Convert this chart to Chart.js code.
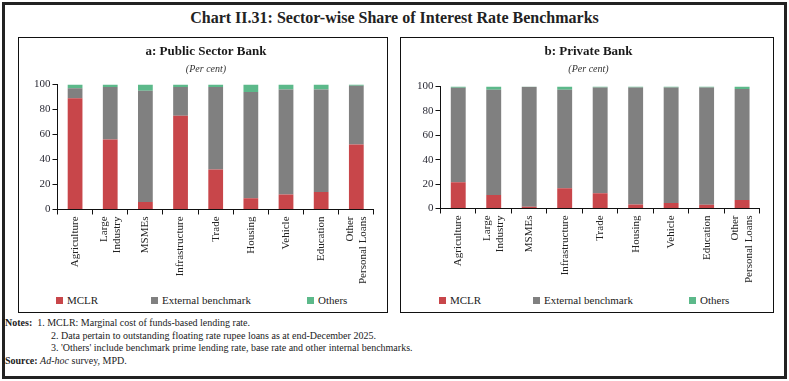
<!DOCTYPE html>
<html>
<head>
<meta charset="utf-8">
<script src="https://cdn.jsdelivr.net/npm/chart.js@4.4.1/dist/chart.umd.min.js"></script>
<style>
  html, body { margin:0; padding:0; background:#fff; }
  body { width:789px; height:381px; position:relative; overflow:hidden; font-family:"Liberation Serif", serif; color:#1a1a1a; }
  #outer { position:absolute; left:2px; top:2px; width:779px; height:371px; border:3px solid #222; }
  #title { position:absolute; left:0; width:789px; top:9px; text-align:center; font-size:16px; font-weight:bold; color:#222; }
  .panel { position:absolute; top:37px; height:274px; border:1px solid #111; }
  #pa { left:18px; width:368px; }
  #pb { left:400px; width:372px; }
  canvas { position:absolute; }
  .legend { position:absolute; top:294px; font-family:"Liberation Serif", serif; font-size:11px; color:#222; white-space:nowrap; }
  .legend span.box { display:inline-block; width:7px; height:7px; margin-right:4px; vertical-align:0px; }
  .legend .item { position:absolute; top:0; }
  #notes { position:absolute; left:5px; top:317px; font-size:10px; line-height:12.5px; color:#222; }
  #notes div { white-space:nowrap; }
</style>
</head>
<body>
<div id="outer"></div>
<div id="title">Chart II.31: Sector-wise Share of Interest Rate Benchmarks</div>
<div class="panel" id="pa"></div>
<div class="panel" id="pb"></div>
<canvas id="ca" width="366" height="248" style="left:19px;top:38px;width:366px;height:248px;"></canvas>
<canvas id="cb" width="370" height="247" style="left:401px;top:38px;width:370px;height:247px;"></canvas>
<div class="legend" id="la" style="left:0px;width:400px;"></div>
<div class="legend" id="lb" style="left:0px;width:789px;"></div>
<div id="notes">
  <div><b>Notes:</b>&nbsp; 1. MCLR: Marginal cost of funds-based lending rate.</div>
  <div style="padding-left:46px">2. Data pertain to outstanding floating rate rupee loans as at end-December 2025.</div>
  <div style="padding-left:46px">3. 'Others' include benchmark prime lending rate, base rate and other internal benchmarks.</div>
  <div><b>Source:</b> <i>Ad-hoc</i> survey, MPD.</div>
</div>
<script>
const categories = [["Agriculture"], ["Large", "Industry"], "MSMEs", "Infrastructure", "Trade", "Housing", "Vehicle", "Education", ["Other", "Personal Loans"]];
const seriesNames = ["MCLR", "External benchmark", "Others"];
const yTicks = [0, 20, 40, 60, 80, 100];

const psbMCLR   = [89, 56, 6, 75, 32, 9, 12, 14, 52];
const psbExt    = [8, 42, 89, 23, 66, 85, 84, 82, 47];
const psbOthers = [3, 2, 5, 2, 2, 6, 4, 4, 1];

const pvtMCLR   = [21.5, 11, 1.5, 16.5, 12.5, 3.3, 4.4, 3, 7];
const pvtExt    = [77.5, 86.5, 98.3, 81, 86.7, 96, 94.8, 96.2, 91];
const pvtOthers = [1, 2.5, 0.2, 2.5, 0.8, 0.7, 0.8, 0.8, 2];

const colors = ["#C8464A", "#808080", "#5CB98A"];
const FONT = "'Liberation Serif', serif";

// Centre multi-line rotated category labels on their bars
const centerLabels = {
  id: 'centerLabels',
  beforeDraw(chart) {
    const sc = chart.scales.x;
    if (!sc || sc._centered) return;
    const items = sc.getLabelItems(chart.chartArea);
    items.forEach(it => {
      const n = Array.isArray(it.label) ? it.label.length : 1;
      if (n > 1) {
        const lh = it.font.lineHeight;
        it.options.translation[0] -= lh * (n - 1) / 2;
      }
    });
    sc._centered = true;
  }
};

function makeChart(id, title, mclr, ext, oth, leftPad, rightPad, subPad) {
  const sets = [mclr, ext, oth].map((d, i) => ({
    label: seriesNames[i], data: d, backgroundColor: colors[i],
    borderWidth: 0, barPercentage: 0.42, categoryPercentage: 1.0
  }));
  return new Chart(document.getElementById(id), {
    type: 'bar',
    data: { labels: categories, datasets: sets },
    plugins: [centerLabels],
    options: {
      responsive: false, animation: false,
      layout: { padding: { left: leftPad, right: rightPad, top: 0, bottom: 0 } },
      plugins: {
        legend: { display: false },
        tooltip: { enabled: false },
        title: { display: true, text: title, color: '#1a1a1a', font: { family: FONT, size: 13, weight: 'bold' }, padding: { top: 6, bottom: 4 } },
        subtitle: { display: true, text: '(Per cent)', color: '#333', font: { family: FONT, size: 10, style: 'italic' }, padding: { top: 0, bottom: subPad } }
      },
      scales: {
        x: {
          stacked: true,
          grid: { display: true, drawOnChartArea: false, drawTicks: true, tickLength: 5, color: '#111', offset: true },
          border: { display: true, color: '#111', width: 1 },
          ticks: { color: '#222', font: { family: FONT, size: 11 }, maxRotation: 90, minRotation: 90, padding: 2, autoSkip: false }
        },
        y: {
          stacked: true, min: 0, max: 100,
          afterBuildTicks: (ax) => { ax.ticks = yTicks.map(v => ({ value: v })); },
          grid: { display: true, drawOnChartArea: false, drawTicks: true, tickLength: 5, color: '#111' },
          border: { display: true, color: '#111', width: 1 },
          ticks: { color: '#2a2a35', font: { family: FONT, size: 11 }, padding: 2 }
        }
      }
    }
  });
}

const chA = makeChart('ca', 'a: Public Sector Bank', psbMCLR, psbExt, psbOthers, 13, 5, 9);
const chB = makeChart('cb', 'b: Private Bank', pvtMCLR, pvtExt, pvtOthers, 14, 9, 11);

function buildLegend(divId, positions) {
  const el = document.getElementById(divId);
  seriesNames.forEach((n, i) => {
    const it = document.createElement('div');
    it.className = 'item';
    it.style.left = positions[i] + 'px';
    const b = document.createElement('span');
    b.className = 'box'; b.style.background = colors[i];
    it.appendChild(b);
    it.appendChild(document.createTextNode(n));
    el.appendChild(it);
  });
}
buildLegend('la', [56, 151, 307]);
buildLegend('lb', [439, 533, 689]);
</script>
</body>
</html>
